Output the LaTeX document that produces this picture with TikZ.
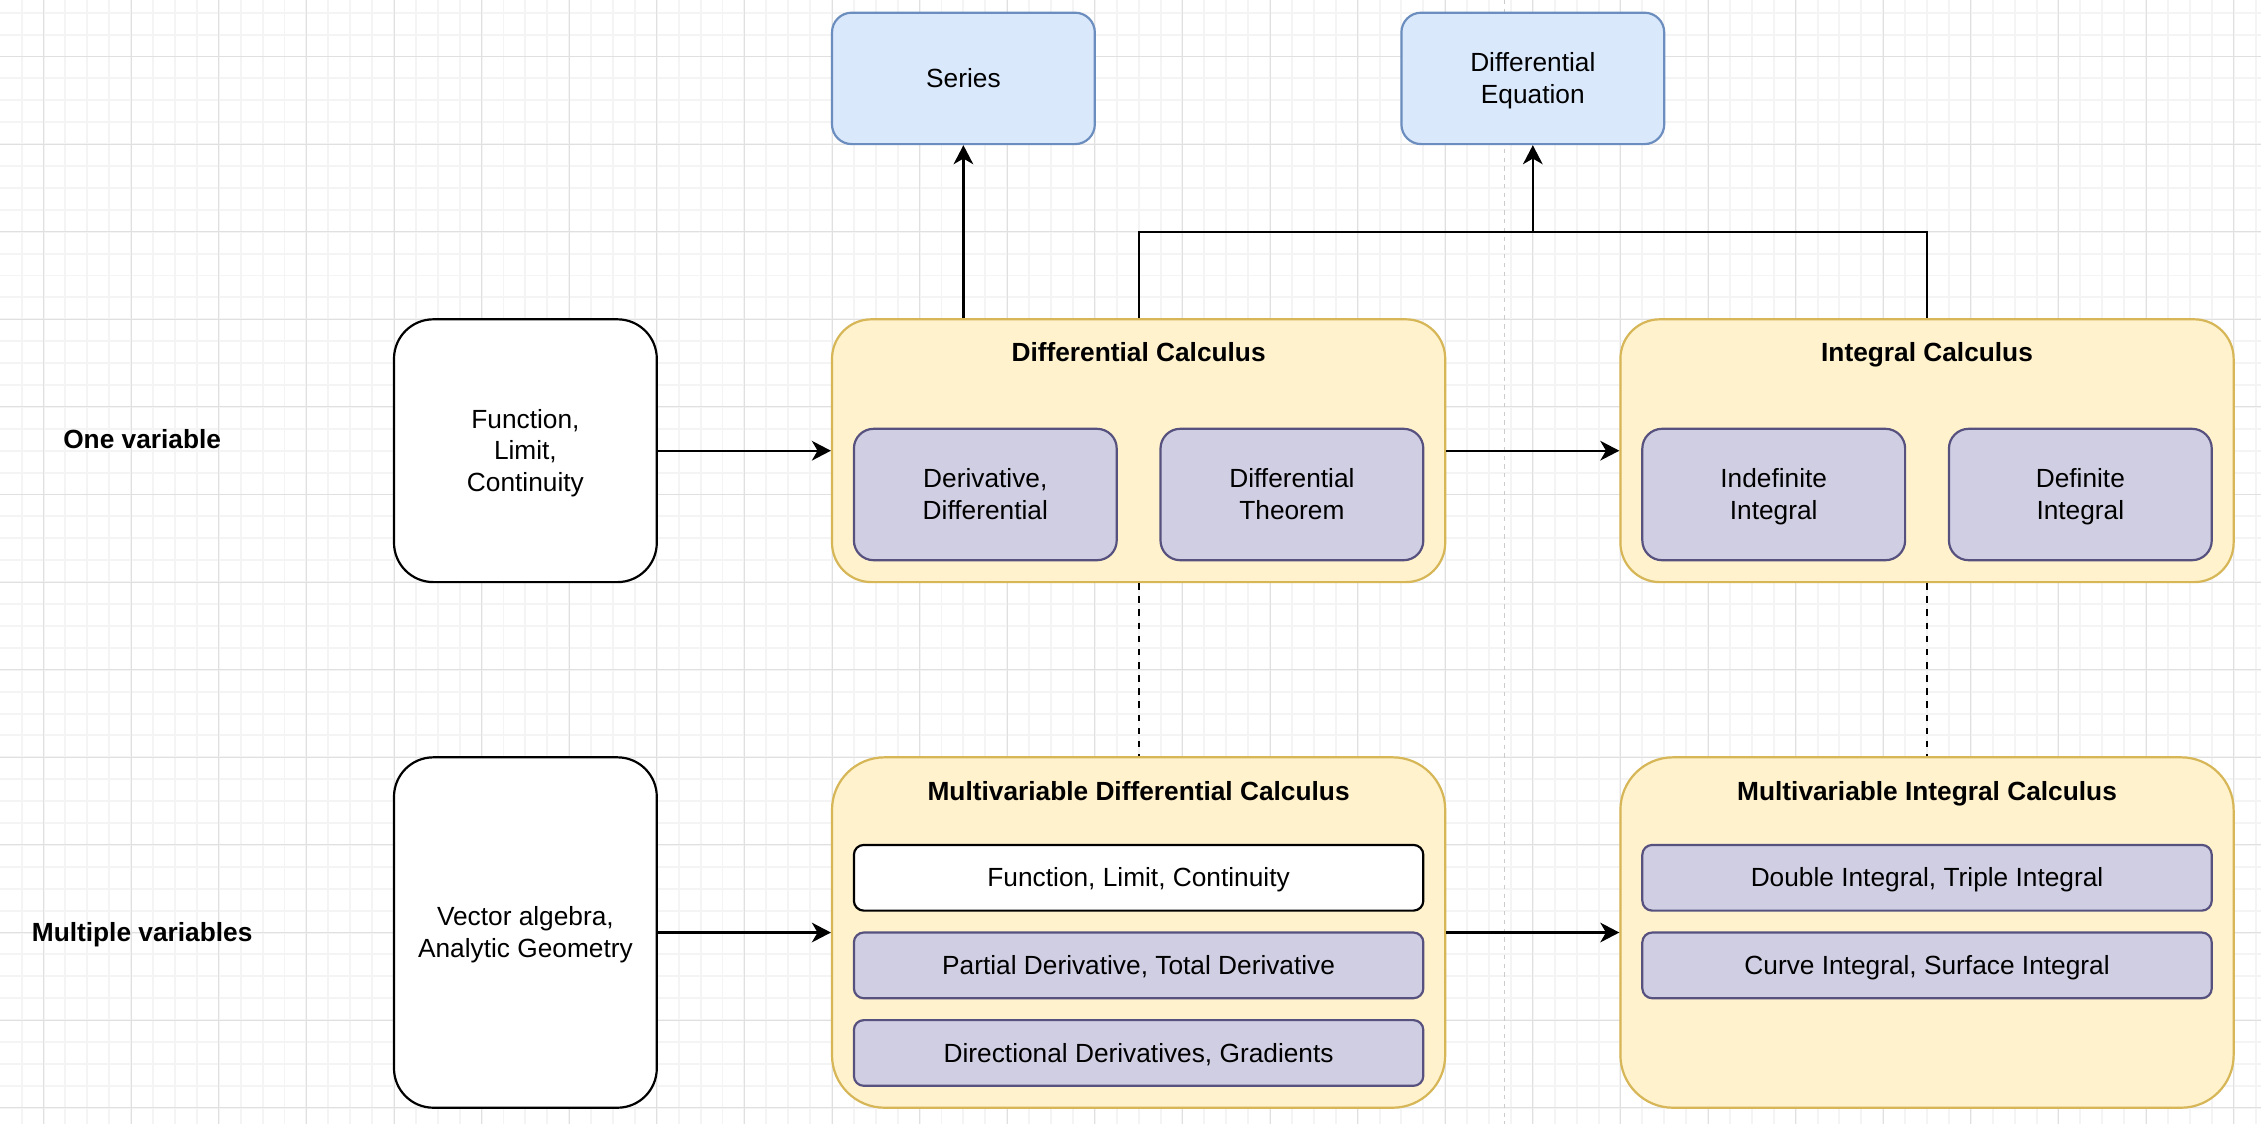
\documentclass[tikz,border=0pt]{standalone}
\usepackage{fontspec}
\setmainfont{Liberation Sans}
\usepackage{tikz}
\usetikzlibrary{arrows.meta,positioning,backgrounds}
\definecolor{bluefill}{HTML}{DAE8FC}
\definecolor{blueline}{HTML}{6C8EBF}
\definecolor{yellowfill}{HTML}{FFF2CC}
\definecolor{yellowline}{HTML}{D6B656}
\definecolor{purplefill}{HTML}{D0CEE2}
\definecolor{purpleline}{HTML}{56517E}
\definecolor{gridmajor}{HTML}{E0E0E0}
\definecolor{gridminor}{HTML}{F4F4F4}
\newcommand{\linestrut}{\vrule height 11.36pt depth 3.04pt width 0pt}
\newcommand{\nextline}{\linestrut\\\linestrut}
\tikzset{flowbox/.style = {draw, line width=1pt, inner sep=0pt, align=center, font=\fontsize{12}{14.4}\selectfont, execute at begin node=\linestrut, execute at end node=\linestrut}}
\tikzset{plain/.style = {flowbox, draw=black, fill=white}}
\tikzset{topic/.style = {flowbox, draw=blueline, fill=bluefill, minimum width=120pt, minimum height=60pt, rounded corners=9pt}}
\tikzset{area/.style = {flowbox, draw=yellowline, fill=yellowfill, minimum width=280pt}}
\tikzset{part/.style = {flowbox, draw=purpleline, fill=purplefill}}
\tikzset{title/.style = {anchor=base, inner sep=0pt, font=\fontsize{12}{14.4}\selectfont\bfseries}}
\tikzset{arrow/.style = {line width=1pt, -{Stealth[length=8.7pt,width=9pt,inset=2.6pt]}}}

\begin{document}
\begin{tikzpicture}[x=1pt,y=-1pt]

\useasboundingbox (-19.9,-25.8) rectangle (1012.5,487.4);
\fill[white] (-19.9,-25.8) rectangle (1012.5,487.4);

\foreach \gx in {-10,0,...,1010} \draw[gridminor,line width=0.9pt] (\gx,-25.8) -- (\gx,487.4);
\foreach \gy in {-20,-10,...,480} \draw[gridminor,line width=0.9pt] (-19.9,\gy) -- (1012.5,\gy);
\foreach \gx in {0,40,...,1000} \draw[gridmajor,line width=0.45pt] (\gx,-25.8) -- (\gx,487.4);
\foreach \gy in {0,40,...,480} \draw[gridmajor,line width=0.45pt] (-19.9,\gy) -- (1012.5,\gy);
\draw[gray!40,line width=0.7pt,dash pattern=on 2pt off 2pt] (667,-25.8) -- (667,487.4);

\node[title] (onevar) at (45,179) {One variable};
\node[title] (multivar) at (45,404) {Multiple variables};

\node[topic] (series) at (420,10) {Series};
\node[topic] (diffeq) at (680,10) {Differential\nextline Equation};

\node[plain, minimum width=120pt, minimum height=120pt, rounded corners=18pt] (func) at (220,180) {Function,\nextline Limit,\nextline Continuity};
\node[plain, minimum width=120pt, minimum height=160pt, rounded corners=18pt] (vector) at (220,400) {Vector algebra,\nextline Analytic Geometry};

\node[area, minimum height=120pt, rounded corners=18pt] (diffcalc) at (500,180) {};
\node[area, minimum height=120pt, rounded corners=18pt] (intcalc) at (860,180) {};
\node[area, minimum height=160pt, rounded corners=24pt] (mdiff) at (500,400) {};
\node[area, minimum height=160pt, rounded corners=24pt] (mint) at (860,400) {};

\node[title] (diffcalcT) at (500,139.3) {Differential Calculus};
\node[title] (intcalcT) at (860,139.3) {Integral Calculus};
\node[title] (mdiffT) at (500,339.5) {Multivariable Differential Calculus};
\node[title] (mintT) at (860,339.5) {Multivariable Integral Calculus};

\node[part, minimum width=120pt, minimum height=60pt, rounded corners=9pt] (deriv) at (430,200) {Derivative,\nextline Differential};
\node[part, minimum width=120pt, minimum height=60pt, rounded corners=9pt] (theorem) at (570,200) {Differential\nextline Theorem};
\node[part, minimum width=120pt, minimum height=60pt, rounded corners=9pt] (indef) at (790,200) {Indefinite\nextline Integral};
\node[part, minimum width=120pt, minimum height=60pt, rounded corners=9pt] (definite) at (930,200) {Definite\nextline Integral};

\node[plain, minimum width=260pt, minimum height=30pt, rounded corners=4.5pt] (mfunc) at (500,375) {Function, Limit, Continuity};
\node[part, minimum width=260pt, minimum height=30pt, rounded corners=4.5pt] (partial) at (500,415) {Partial Derivative, Total Derivative};
\node[part, minimum width=260pt, minimum height=30pt, rounded corners=4.5pt] (direct) at (500,455) {Directional Derivatives, Gradients};
\node[part, minimum width=260pt, minimum height=30pt, rounded corners=4.5pt] (double) at (860,375) {Double Integral, Triple Integral};
\node[part, minimum width=260pt, minimum height=30pt, rounded corners=4.5pt] (curve) at (860,415) {Curve Integral, Surface Integral};

\coordinate (join) at (500,80);

\draw[arrow] (func.east) -- (diffcalc.west);
\draw[arrow] (diffcalc.east) -- (intcalc.west);
\draw[arrow] (vector.east) -- (mdiff.west);
\draw[arrow] (mdiff.east) -- (mint.west);

\draw[arrow] (series.south |- diffcalc.north) -- (series.south);
\draw[line width=1pt] (diffcalc.north) -- (join) -| (intcalc.north);
\draw[arrow] (diffeq.south |- join) -- (diffeq.south);

\draw[line width=1pt,dash pattern=on 3pt off 3pt] (diffcalc.south) -- (mdiff.north);
\draw[line width=1pt,dash pattern=on 3pt off 3pt] (intcalc.south) -- (mint.north);
\end{tikzpicture}
\end{document}
